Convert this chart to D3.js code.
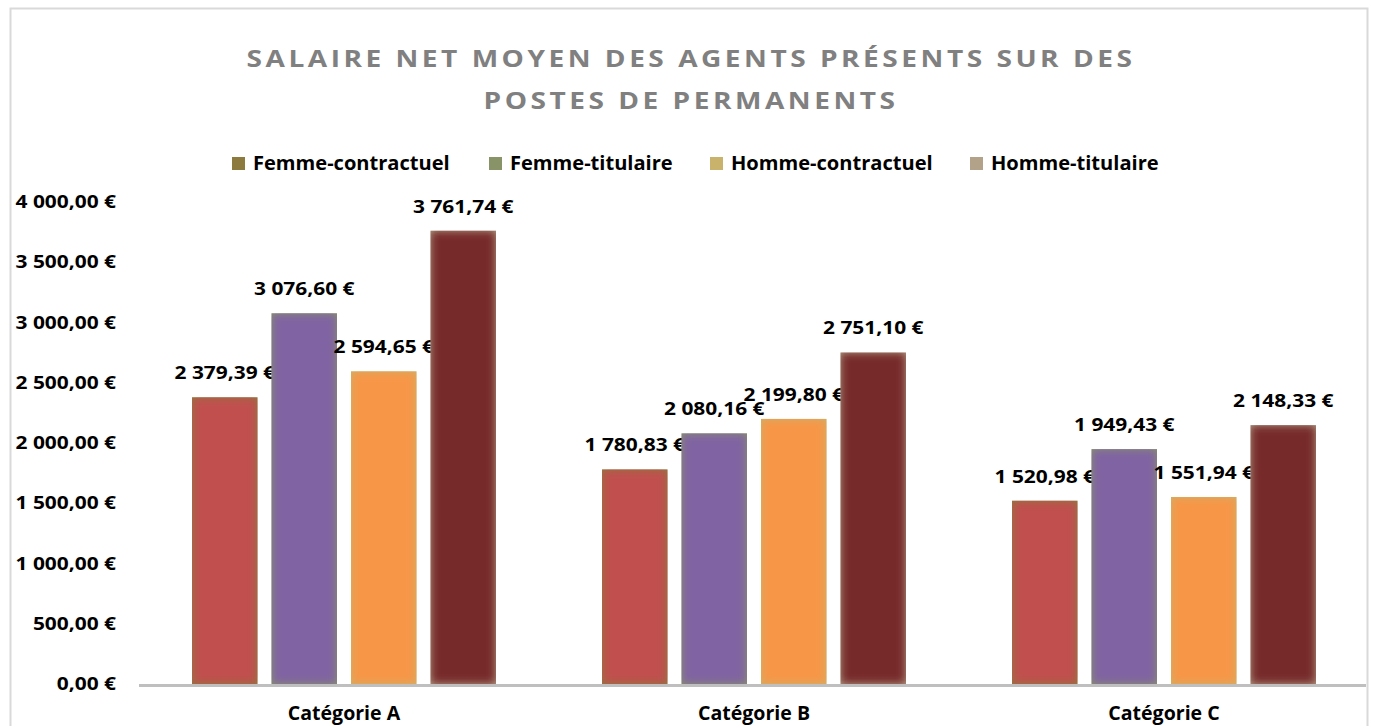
<!DOCTYPE html>
<html>
<head>
<meta charset="utf-8">
<script src="https://cdn.jsdelivr.net/npm/d3@7"></script>
<style>
  body { margin: 0; background: #fff; }
  text { font-family: "Open Sans", sans-serif; font-weight: bold; }
</style>
</head>
<body>
<div id="chart"></div>
<script>
// data
var categories = ["Catégorie A", "Catégorie B", "Catégorie C"];
var seriesNames = ["Femme-contractuel", "Femme-titulaire", "Homme-contractuel", "Homme-titulaire"];
var femmeContractuel = [2379.39, 1780.83, 1520.98];
var femmeTitulaire = [3076.60, 2080.16, 1949.43];
var hommeContractuel = [2594.65, 2199.80, 1551.94];
var hommeTitulaire = [3761.74, 2751.10, 2148.33];
var yTicks = [0, 500, 1000, 1500, 2000, 2500, 3000, 3500, 4000];
var titleLines = ["SALAIRE NET MOYEN DES AGENTS PRÉSENTS SUR DES", "POSTES DE PERMANENTS"];

var barColours = ["#C0504D", "#8064A2", "#F79646", "#772C2A"];
var edgeColours = ["#8C7A3E", "#889468", "#C9B36C", "#B3A28A"];

var width = 1373, height = 726;

var allSeries = [femmeContractuel, femmeTitulaire, hommeContractuel, hommeTitulaire];
var table = categories.map(function(c, i) {
  return { cat: c, values: seriesNames.map(function(s, j) { return { key: s, idx: j, value: allSeries[j][i] }; }) };
});

var fr = d3.formatLocale({ decimal: ",", thousands: " ", grouping: [3], currency: ["", " €"] });
var money = fr.format("$,.2f");

var svg = d3.select("#chart").append("svg")
  .attr("width", width)
  .attr("height", height);

var defs = svg.append("defs");
var f = defs.append("filter").attr("id", "soft")
  .attr("x", 0).attr("y", 0).attr("width", 1).attr("height", 1);
f.append("feGaussianBlur").attr("in", "SourceGraphic").attr("stdDeviation", 4.5).attr("result", "b");
f.append("feComposite").attr("in", "b").attr("in2", "SourceAlpha").attr("operator", "in");

// frame
svg.append("rect")
  .attr("x", 10.5).attr("y", 8.5)
  .attr("width", 1357).attr("height", 740)
  .attr("fill", "none")
  .attr("stroke", "#d9d9d9")
  .attr("stroke-width", 2);

// text in the reference is a little wider than the local fonts
function stretched(sel, x, y, sx) {
  return sel.attr("transform", "translate(" + x + "," + y + ") scale(" + sx + ",1)");
}

// title
titleLines.forEach(function(t, i) {
  stretched(svg.append("text"), 691, 67 + i * 42, 1.17)
    .attr("text-anchor", "middle")
    .attr("fill", "#808080")
    .style("font-size", "24px")
    .style("letter-spacing", "3px")
    .text(t);
});

// legend
var legendX = [232, 489, 710, 970];
var lg = svg.append("g").selectAll("g").data(seriesNames).enter().append("g");
lg.append("rect")
  .attr("x", function(d, i) { return legendX[i]; })
  .attr("y", 157)
  .attr("width", 13).attr("height", 13)
  .attr("fill", function(d, i) { return edgeColours[i]; });
lg.append("text")
  .each(function(d, i) { stretched(d3.select(this), legendX[i] + 21, 170, 1.03); })
  .style("font-size", "19.5px")
  .attr("fill", "#000")
  .text(function(d) { return d; });

// scales
var x0 = d3.scaleBand().domain(categories).range([139, 1369]).paddingInner(0).paddingOuter(0);
var x1 = d3.scaleBand().domain(seriesNames).range([53, 357]).paddingInner(0.176).paddingOuter(0);
var y = d3.scaleLinear().domain([0, 4000]).range([684, 202]);

// y labels
svg.append("g").selectAll("text").data(yTicks).enter().append("text")
  .each(function(d) { stretched(d3.select(this), 116, y(d) + 6, 1.23); })
  .attr("text-anchor", "end")
  .style("font-size", "17px")
  .attr("fill", "#000")
  .text(function(d) { return money(d); });

// bars
var groups = svg.append("g").selectAll("g").data(table).enter().append("g")
  .attr("transform", function(d) { return "translate(" + x0(d.cat) + ",0)"; });

var bars = groups.selectAll("g.bar").data(function(d) { return d.values; }).enter().append("g").attr("class", "bar");
bars.append("rect")
  .attr("x", function(d) { return x1(d.key); })
  .attr("y", function(d) { return y(d.value); })
  .attr("width", x1.bandwidth())
  .attr("height", function(d) { return y(0) - y(d.value); })
  .attr("fill", function(d) { return edgeColours[d.idx]; });
bars.append("rect")
  .attr("x", function(d) { return x1(d.key); })
  .attr("y", function(d) { return y(d.value); })
  .attr("width", x1.bandwidth())
  .attr("height", function(d) { return y(0) - y(d.value); })
  .attr("fill", function(d) { return barColours[d.idx]; })
  .attr("filter", "url(#soft)");
bars.append("text")
  .each(function(d) { stretched(d3.select(this), x1(d.key) + x1.bandwidth() / 2, y(d.value) - 18, 1.23); })
  .attr("text-anchor", "middle")
  .style("font-size", "17px")
  .attr("fill", "#000")
  .text(function(d) { return money(d.value); });

// x axis line
svg.append("line")
  .attr("x1", 139).attr("x2", 1366)
  .attr("y1", y(0) + 1.5).attr("y2", y(0) + 1.5)
  .attr("stroke", "#bfbfbf")
  .attr("stroke-width", 3);

// category labels
svg.append("g").selectAll("text").data(categories).enter().append("text")
  .each(function(d) { stretched(d3.select(this), x0(d) + x0.bandwidth() / 2, 720, 1.03); })
  .attr("text-anchor", "middle")
  .style("font-size", "19px")
  .attr("fill", "#000")
  .text(function(d) { return d; });
</script>
</body>
</html>
